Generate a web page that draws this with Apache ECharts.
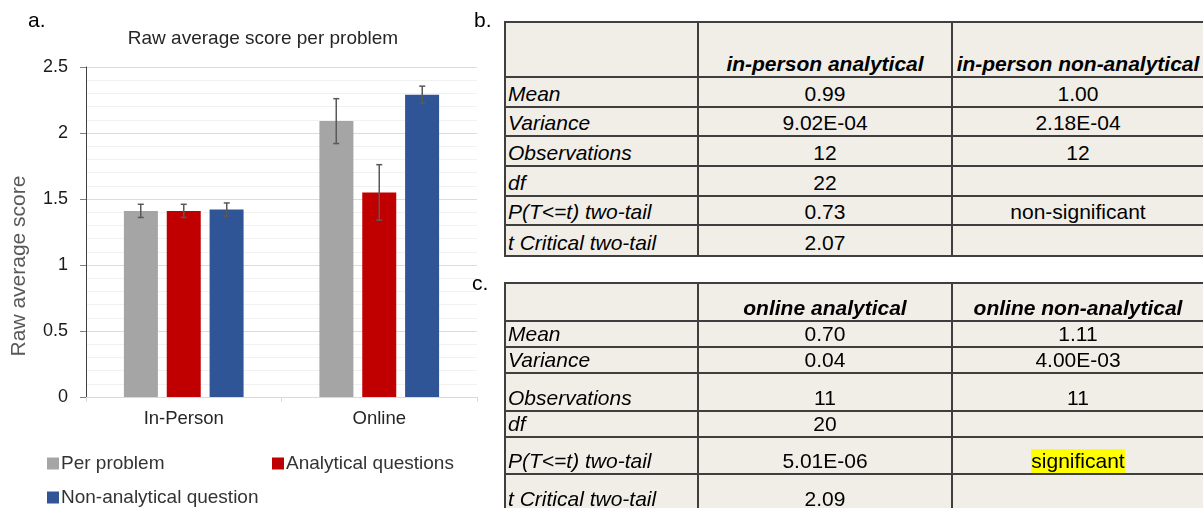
<!DOCTYPE html>
<html><head><meta charset="utf-8">
<script src="https://cdn.jsdelivr.net/npm/echarts@6/dist/echarts.min.js"></script>
<style>
html,body{margin:0;padding:0;width:1203px;height:508px;overflow:hidden;background:#fff;}
#chart{position:absolute;left:0;top:0;width:1203px;height:508px;}
#tables{position:absolute;left:0;top:0;width:1203px;height:508px;overflow:hidden;font-family:'Liberation Sans',Arial,sans-serif;font-size:21px;color:#000;}
.cell{position:absolute;display:flex;align-items:flex-end;white-space:nowrap;}
.cell span{line-height:24px;display:inline-block;}
.bg{position:absolute;background:#f1eee8;}
.ln{position:absolute;background:#3f3f3f;}
</style></head><body>
<div id="chart"></div><div id="tables"></div>
<script>
// ---- chart data ----
const categories = ['In-Person', 'Online'];
const seriesNames = ['Per problem', 'Analytical questions', 'Non-analytical question'];
const perProblem = [1.41, 2.09];
const analytical = [1.41, 1.55];
const nonAnalytical = [1.42, 2.29];
const perProblemErr = [0.05, 0.17];
const analyticalErr = [0.05, 0.21];
const nonAnalyticalErr = [0.05, 0.065];
const chartTitle = 'Raw average score per problem';
const yAxisName = 'Raw average score';

// ---- table b data ----
const tableBHeader = ['', 'in-person analytical', 'in-person non-analytical'];
const tableBRows = ['Mean', 'Variance', 'Observations', 'df', 'P(T<=t) two-tail', 't Critical two-tail'];
const tableBCol1 = ['0.99', '9.02E-04', '12', '22', '0.73', '2.07'];
const tableBCol2 = ['1.00', '2.18E-04', '12', '', 'non-significant', ''];

// ---- table c data ----
const tableCHeader = ['', 'online analytical', 'online non-analytical'];
const tableCRows = ['Mean', 'Variance', 'Observations', 'df', 'P(T<=t) two-tail', 't Critical two-tail'];
const tableCCol1 = ['0.70', '0.04', '11', '20', '5.01E-06', '2.09'];
const tableCCol2 = ['1.11', '4.00E-03', '11', '', 'significant', ''];
const highlighted = ['significant'];

const colors = ['#A5A5A5', '#C00000', '#2F5597'];
const FONT = "'Liberation Sans', Arial, sans-serif";

function errorSeries(name, values, errs, offset) {
  return {
    type: 'custom', name: name + ' error', silent: true, z: 10,
    data: values.map((v, i) => [i, v, errs[i]]),
    encode: { x: 0, y: 1 },
    renderItem: function (params, api) {
      const i = api.value(0), v = api.value(1), e = api.value(2);
      const top = api.coord([i, v + e]);
      const bot = api.coord([i, v - e]);
      const x = top[0] + offset, hw = 3;
      const st = { stroke: '#595959', lineWidth: 1.5 };
      return { type: 'group', children: [
        { type: 'line', shape: { x1: x, y1: top[1], x2: x, y2: bot[1] }, style: st },
        { type: 'line', shape: { x1: x - hw, y1: top[1], x2: x + hw, y2: top[1] }, style: st },
        { type: 'line', shape: { x1: x - hw, y1: bot[1], x2: x + hw, y2: bot[1] }, style: st }
      ]};
    }
  };
}

const chart = echarts.init(document.getElementById('chart'), null, { renderer: 'canvas' });
const legendCommon = {
  icon: 'rect', itemWidth: 12, itemHeight: 12, selectedMode: false, padding: 0,
  textStyle: { fontSize: 19, color: '#333', fontFamily: FONT, padding: [0, 0, 0, -3] }
};
chart.setOption({
  animation: false,
  textStyle: { fontFamily: FONT },
  grid: { left: 86, top: 67, width: 391, height: 330, containLabel: false },
  legend: [
    Object.assign({ data: [seriesNames[0]], left: 47, top: 454 }, legendCommon),
    Object.assign({ data: [seriesNames[1]], left: 272, top: 454 }, legendCommon),
    Object.assign({ data: [seriesNames[2]], left: 47, top: 488 }, legendCommon)
  ],
  xAxis: {
    type: 'category', data: categories,
    axisLine: { lineStyle: { color: '#d9d9d9', width: 1 } },
    axisTick: { show: true, length: 5, lineStyle: { color: '#d9d9d9' } },
    axisLabel: { margin: 12, fontSize: 18.5, color: '#262626' }
  },
  yAxis: {
    type: 'value', min: 0, max: 2.5, interval: 0.5,
    axisLine: { show: true, lineStyle: { color: '#404040', width: 1 } },
    axisTick: { show: true, length: 6, lineStyle: { color: '#808080' } },
    axisLabel: { margin: 18, fontSize: 18, color: '#1a1a1a' },
    splitLine: { lineStyle: { color: '#dcdcdc', width: 1 } },
    minorTick: { show: false, splitNumber: 5 },
    minorSplitLine: { show: true, lineStyle: { color: '#f1f1f1', width: 1 } }
  },
  series: [
    { type: 'bar', name: seriesNames[0], data: perProblem, barWidth: 34, barGap: '26%', itemStyle: { color: colors[0] } },
    { type: 'bar', name: seriesNames[1], data: analytical, barWidth: 34, barGap: '26%', itemStyle: { color: colors[1] } },
    { type: 'bar', name: seriesNames[2], data: nonAnalytical, barWidth: 34, barGap: '26%', itemStyle: { color: colors[2] } },
    errorSeries(seriesNames[0], perProblem, perProblemErr, -43),
    errorSeries(seriesNames[1], analytical, analyticalErr, 0),
    errorSeries(seriesNames[2], nonAnalytical, nonAnalyticalErr, 43)
  ],
  graphic: [
    { type: 'text', x: 263, y: 39, style: { text: chartTitle, fill: '#262626', fontSize: 19, fontFamily: FONT, align: 'center', verticalAlign: 'middle', textAlign: 'center', textVerticalAlign: 'middle' } },
    { type: 'text', x: 19.5, y: 266, rotation: Math.PI / 2, style: { text: yAxisName, fill: '#595959', fontSize: 21, fontFamily: FONT, align: 'center', verticalAlign: 'middle', textAlign: 'center', textVerticalAlign: 'middle' } },
    { type: 'text', x: 28, y: 21, style: { text: 'a.', fill: '#000', fontSize: 21, fontFamily: FONT, align: 'left', verticalAlign: 'middle', textAlign: 'left', textVerticalAlign: 'middle' } },
    { type: 'text', x: 474, y: 21, style: { text: 'b.', fill: '#000', fontSize: 21, fontFamily: FONT, align: 'left', verticalAlign: 'middle', textAlign: 'left', textVerticalAlign: 'middle' } },
    { type: 'text', x: 472, y: 284, style: { text: 'c.', fill: '#000', fontSize: 21, fontFamily: FONT, align: 'left', verticalAlign: 'middle', textAlign: 'left', textVerticalAlign: 'middle' } }
  ]
});

// ---- tables (HTML) ----
const xLines = [505, 698, 952, 1204];
const yLinesB = [22, 77, 107, 136, 166, 196, 225, 256];
const yLinesC = [283, 321, 347, 373, 411, 437, 474, 512];
const host = document.getElementById('tables');

function el(cls, l, t, w, h) {
  const d = document.createElement('div');
  d.className = cls;
  d.style.left = l + 'px'; d.style.top = t + 'px';
  d.style.width = w + 'px'; d.style.height = h + 'px';
  host.appendChild(d);
  return d;
}

function buildTable(header, rows, col1, col2, yl) {
  const x0 = xLines[0], x1 = xLines[xLines.length - 1];
  const y0 = yl[0], y1 = yl[yl.length - 1];
  el('bg', x0, y0, x1 - x0, y1 - y0);
  const grid = [header].concat(rows.map((r, i) => [r, col1[i], col2[i]]));
  grid.forEach((row, ri) => {
    row.forEach((txt, ci) => {
      const l = xLines[ci] + 1, w = xLines[ci + 1] - xLines[ci] - 2;
      const t = yl[ri] + 1, h = yl[ri + 1] - yl[ri] - 2;
      const c = el('cell', l, t, w, h);
      c.style.justifyContent = ci === 0 ? 'flex-start' : 'center';
      if (ci === 0) c.style.paddingLeft = '2px';
      const s = document.createElement('span');
      s.textContent = txt;
      if (ri === 0) { s.style.fontWeight = 'bold'; s.style.fontStyle = 'italic'; }
      else if (ci === 0) { s.style.fontStyle = 'italic'; }
      if (highlighted.indexOf(txt) >= 0) s.style.background = '#ffff00';
      c.appendChild(s);
    });
  });
  yl.forEach(y => el('ln', x0 - 1, y - 1, x1 - x0 + 2, 2));
  xLines.forEach(x => el('ln', x - 1, y0 - 1, 2, y1 - y0 + 2));
}
buildTable(tableBHeader, tableBRows, tableBCol1, tableBCol2, yLinesB);
buildTable(tableCHeader, tableCRows, tableCCol1, tableCCol2, yLinesC);
</script>
</body></html>
